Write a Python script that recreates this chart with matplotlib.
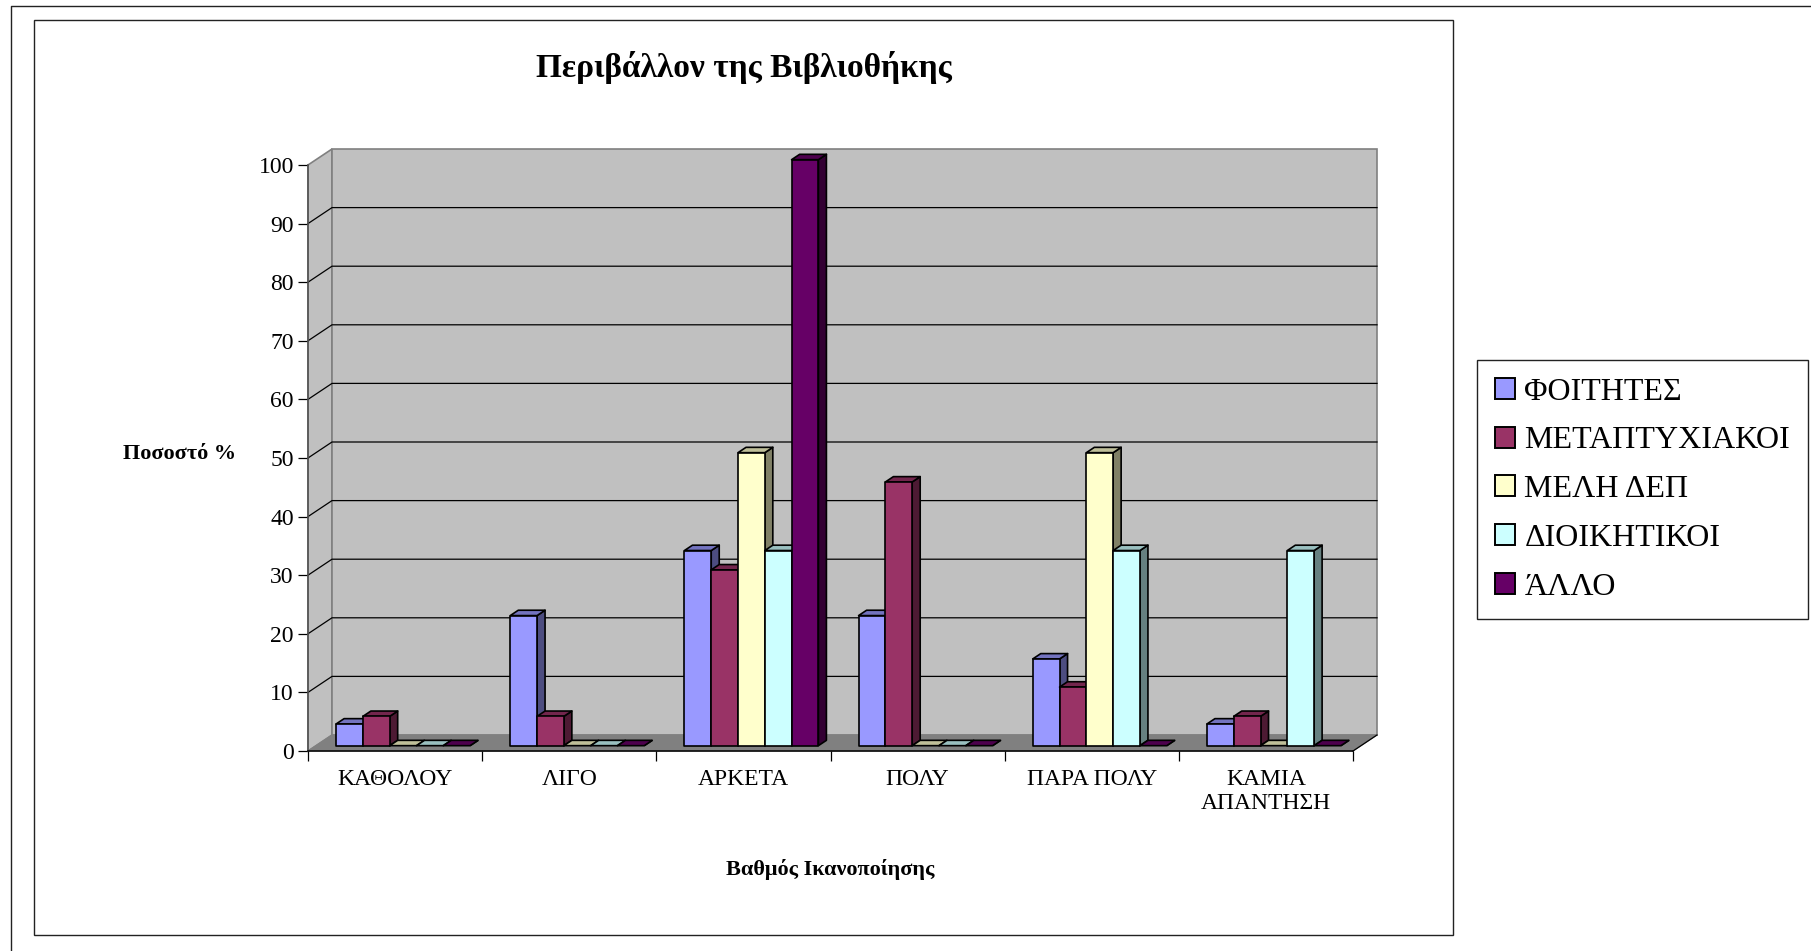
import matplotlib
matplotlib.use('Agg')
import matplotlib.pyplot as plt
from matplotlib.patches import Polygon, Rectangle, Patch
from matplotlib.lines import Line2D

plt.rcParams['font.family'] = ['Liberation Serif', 'DejaVu Serif']

categories = ['ΚΑΘΟΛΟΥ', 'ΛΙΓΟ', 'ΑΡΚΕΤΑ', 'ΠΟΛΥ', 'ΠΑΡΑ ΠΟΛΥ', 'ΚΑΜΙΑ\nΑΠΑΝΤΗΣΗ']
series_names = ['ΦΟΙΤΗΤΕΣ', 'ΜΕΤΑΠΤΥΧΙΑΚΟΙ', 'ΜΕΛΗ ΔΕΠ', 'ΔΙΟΙΚΗΤΙΚΟΙ', 'ΆΛΛΟ']
foitites = [3.7, 22.2, 33.3, 22.2, 14.8, 3.7]
metaptyxiakoi = [5, 5, 30, 45, 10, 5]
meli_dep = [0, 0, 50, 0, 50, 0]
dioikitikoi = [0, 0, 33.3, 0, 33.3, 33.3]
allo = [0, 0, 100, 0, 0, 0]
series = [foitites, metaptyxiakoi, meli_dep, dioikitikoi, allo]
colors = ['#9999FF', '#993366', '#FFFFCC', '#CCFFFF', '#660066']
yticks = list(range(0, 101, 10))

W, H = 1811, 951
fig = plt.figure(figsize=(W / 100, H / 100), dpi=100)


def frac_box(x0, y0, x1, y1):
    return [x0 / W, 1 - y1 / H, (x1 - x0) / W, (y1 - y0) / H]


# outer page frame and chart frame
fig.add_artist(Line2D([10.5 / W, 10.5 / W, 1], [0, 1 - 5.5 / H, 1 - 5.5 / H], color='#222222', lw=1))
fig.add_artist(Rectangle((34 / W, 1 - 934.5 / H), (1453 - 34) / W, (934.5 - 19.5) / H, fill=False,
                         ec='#222222', lw=1, transform=fig.transFigure))

ax = fig.add_axes(frac_box(308, 165, 1353, 751))
ax.set_xlim(0, 6)
ax.set_ylim(0, 100)
ax.patch.set_visible(False)

# depth of the fake 3d box, in data units
ddx = 24 / (1045 / 6)
ddy = 16 / 5.86

# walls and floor
ax.add_patch(Polygon([(0, 0), (ddx, ddy), (ddx, 100 + ddy), (0, 100)], fc='#C0C0C0', ec='#808080', lw=1.2, clip_on=False, zorder=1))
ax.add_patch(Polygon([(ddx, ddy), (6 + ddx, ddy), (6 + ddx, 100 + ddy), (ddx, 100 + ddy)], fc='#C0C0C0', ec='#808080', lw=1.2, clip_on=False, zorder=1))
ax.add_patch(Polygon([(0, 0), (6, 0), (6 + ddx, ddy), (ddx, ddy)], fc='#808080', ec='#808080', lw=0.8, clip_on=False, zorder=1))

for v in yticks[1:-1]:
    ax.plot([0, ddx, 6 + ddx], [v, v + ddy, v + ddy], color='black', lw=0.9, clip_on=False, zorder=2)
ax.plot([6, 6 + ddx], [0, ddy], color='black', lw=0.9, clip_on=False, zorder=2)


def shade(c, f):
    r, g, b = matplotlib.colors.to_rgb(c)
    return (r * f, g * f, b * f)


bar_w = 1 / 6.5
for i in range(len(categories)):
    for j, vals in enumerate(series):
        x0 = i + 0.75 * bar_w + j * bar_w + ddx / 3
        x1 = x0 + bar_w
        y0 = ddy / 3
        y1 = y0 + vals[i]
        bx = ddx / 3
        by = ddy / 3
        c = colors[j]
        kw = dict(ec='black', lw=1.2, joinstyle='round', clip_on=False, zorder=3 + i * 5 + j)
        ax.add_patch(Polygon([(x1, y0), (x1 + bx, y0 + by), (x1 + bx, y1 + by), (x1, y1)], fc=shade(c, 0.5), **kw))
        ax.add_patch(Polygon([(x0, y1), (x1, y1), (x1 + bx, y1 + by), (x0 + bx, y1 + by)], fc=shade(c, 0.75), **kw))
        if vals[i] > 0:
            ax.add_patch(Rectangle((x0, y0), bar_w, vals[i], fc=c, **kw))

for s in ['top', 'right']:
    ax.spines[s].set_visible(False)
ax.spines['left'].set_color('#555555')
ax.spines['left'].set_linewidth(1.2)
ax.spines['left'].set_zorder(2)
ax.spines['bottom'].set_linewidth(1.1)

ax.set_yticks(yticks)
ax.set_xticks(range(7))
ax.set_xticklabels([])
ax.set_xticks([i + 0.5 for i in range(6)], categories, minor=True)
ax.tick_params(axis='y', length=7.2, width=0.9, labelsize=17, pad=3)
ax.tick_params(axis='x', which='major', length=7.2, width=0.9)
ax.tick_params(axis='x', which='minor', length=0, labelsize=17, pad=13)

fig.text(744 / W, 1 - 67 / H, 'Περιβάλλον της Βιβλιοθήκης', ha='center', va='center', fontsize=24, fontweight='bold')
fig.text(180 / W, 1 - 454 / H, 'Ποσοστό %', ha='center', va='center', fontsize=16, fontweight='bold')
fig.text(830 / W, 1 - 870 / H, 'Βαθμός Ικανοποίησης', ha='center', va='center', fontsize=16, fontweight='bold')

handles = [Patch(fc=c, ec='black', lw=1.4) for c in colors]
leg = fig.legend(handles, series_names, loc='upper left', bbox_to_anchor=(1477 / W, 1 - 360 / H), bbox_transform=fig.transFigure,
                 fontsize=23, frameon=True, fancybox=False, edgecolor='#222222', framealpha=1, borderaxespad=0,
                 handlelength=0.63, handleheight=0.63, handletextpad=0.3, labelspacing=0.62, borderpad=0.55)
leg.get_frame().set_linewidth(1)

fig.savefig('out.png', dpi=100)
